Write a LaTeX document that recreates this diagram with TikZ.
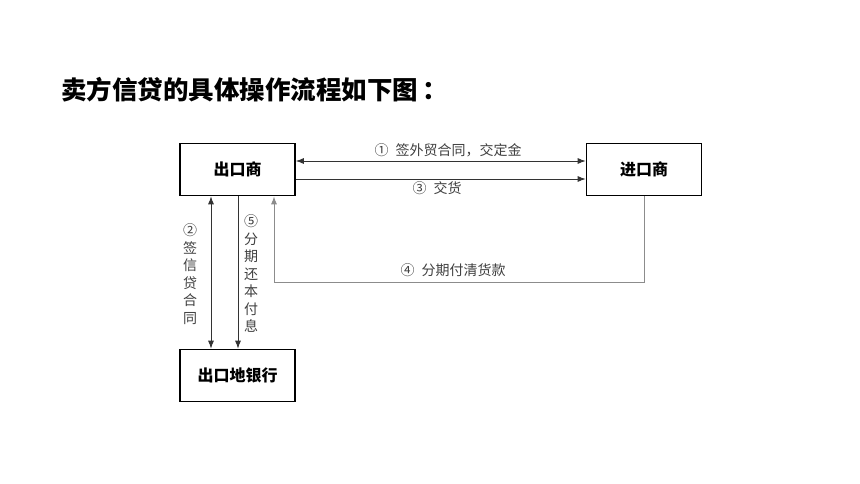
\documentclass[tikz,border=0pt]{standalone}
\usepackage{fontspec}
\setmainfont{Noto Sans CJK SC}
\usetikzlibrary{arrows.meta}

\tikzset{
    box/.style={draw, line width=1.6pt, minimum width=115pt, minimum height=52pt,
                font=\fontsize{16}{19}\selectfont\bfseries},
    lbl/.style={font=\fontsize{14}{17.5}\selectfont, text=black!75, inner sep=1pt},
    vlbl/.style={lbl, align=center},
    flow/.style={draw=black!80, line width=0.9pt, -{Latex[length=8pt,width=6pt]}},
    back/.style={draw=black!45, line width=1pt, -{Latex[length=8pt,width=6pt]}}
}

\begin{document}
\begin{tikzpicture}[x=1pt,y=-1pt]
    \useasboundingbox[fill=white] (0,0) rectangle (860,484);

    % title
    \node[anchor=west, inner sep=0pt, font=\fontsize{25.5}{28}\selectfont\bfseries] (title) at (61,90) {卖方信贷的具体操作流程如下图\,：};

    % boxes
    \node[box] (exp) at (237.5,169.5) {出口商};
    \node[box] (imp) at (644,169.5) {进口商};
    \node[box] (bank) at (237.5,375.5) {出口地银行};

    % exporter <-> importer
    \draw[flow, {Latex[length=8pt,width=6pt]}-{Latex[length=8pt,width=6pt]}] ([yshift=8.5pt]exp.east) -- ([yshift=8.5pt]imp.west);
    \draw[flow] ([yshift=-9.5pt]exp.east) -- ([yshift=-9.5pt]imp.west);
    \draw[back] (imp.south) -- ++(0,86) -| ([xshift=36.5pt]exp.south);

    % exporter <-> bank
    \draw[flow, {Latex[length=8pt,width=6pt]}-{Latex[length=8pt,width=6pt]}] ([xshift=-26.5pt]exp.south) -- ([xshift=-26.5pt]bank.north);
    \draw[flow] ([xshift=0.5pt]exp.south) -- ([xshift=0.5pt]bank.north);

    % labels
    \node[lbl] (l1) at (448,150) {①\hspace{7pt}签外贸合同，交定金};
    \node[lbl] (l3) at (437,188) {③\hspace{7pt}交货};
    \node[lbl] (l4) at (453,270) {④\hspace{7pt}分期付清货款};
    \node[vlbl] (l2) at (190,274) {②\\签\\信\\贷\\合\\同};
    \node[vlbl] (l5) at (251,274) {⑤\\分\\期\\还\\本\\付\\息};

\end{tikzpicture}
\end{document}
